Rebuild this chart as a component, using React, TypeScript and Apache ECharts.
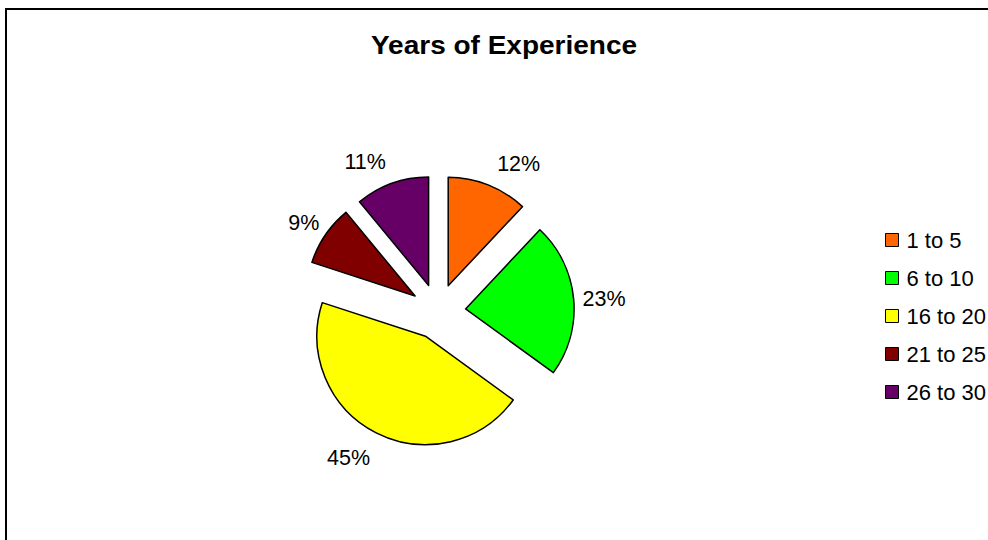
import React, { useEffect, useRef } from "react";
import * as echarts from "echarts";

const TITLE = "Years of Experience";
const categories = ["1 to 5", "6 to 10", "16 to 20", "21 to 25", "26 to 30"];
const percents = [12, 23, 45, 9, 11];
const colors = ["#FF6600", "#00FF00", "#FFFF00", "#800000", "#660066"];

const FONT = "'Liberation Sans', Arial, Helvetica, sans-serif";
const CX = 438;
const CY = 311.5;

export default function App() {
  const ref = useRef<HTMLDivElement>(null);

  useEffect(() => {
    if (!ref.current) return;
    const chart = echarts.init(ref.current, null, { renderer: "svg" });
    const data = categories.map((name, i) => ({
      name,
      value: percents[i],
      selected: true,
      itemStyle: { color: colors[i] },
    }));
    const total = percents.reduce((a, b) => a + b, 0);
    const midDir = (idx: number) => {
      let before = 0;
      for (let k = 0; k < idx; k++) before += percents[k];
      const frac = (before + percents[idx] / 2) / total;
      return { nx: Math.sin(frac * 2 * Math.PI), ny: -Math.cos(frac * 2 * Math.PI) };
    };
    chart.setOption({
      animation: false,
      backgroundColor: "#ffffff",
      graphic: [
        {
          type: "rect",
          shape: { x: 6, y: 9, width: 1100, height: 700 },
          style: { fill: "none", stroke: "#000000", lineWidth: 2 },
          silent: true,
        },
        {
          type: "text",
          x: 504,
          y: 46,
          scaleX: 1.12,
          style: {
            text: TITLE,
            fontFamily: FONT,
            fontSize: 25,
            fontWeight: "bold",
            fill: "#000000",
            align: "center",
            verticalAlign: "middle",
          },
          silent: true,
        },
      ],
      legend: {
        orient: "vertical",
        left: 885,
        top: 229,
        padding: 0,
        itemWidth: 13,
        itemHeight: 13,
        itemGap: 16,
        icon: "rect",
        selectedMode: false,
        itemStyle: { borderColor: "#000000", borderWidth: 1 },
        textStyle: {
          fontFamily: FONT,
          fontSize: 22,
          lineHeight: 22,
          color: "#000000",
          padding: [0, 0, 0, 3],
        },
        data: categories,
      },
      series: [
        {
          type: "pie",
          center: [CX, CY],
          radius: 108.5,
          startAngle: 90,
          clockwise: true,
          selectedMode: "multiple",
          selectedOffset: 27.7,
          avoidLabelOverlap: false,
          emphasis: { disabled: true },
          itemStyle: { borderColor: "#000000", borderWidth: 1.5 },
          label: {
            show: true,
            position: "outside",
            formatter: "{d}%",
            fontFamily: FONT,
            fontSize: 21.5,
            color: "#000000",
            distanceToLabelLine: 9,
          },
          labelLine: { show: false, length: 0, length2: 0 },
          labelLayout: (p: any) => {
            const d = midDir(p.dataIndex);
            return { dy: d.ny * 25.5 + 2.5, dx: d.nx < 0 ? 3 : 0 };
          },
          data,
        },
      ],
    });
    return () => chart.dispose();
  }, []);

  return (
    <div
      ref={ref}
      style={{ position: "absolute", left: 0, top: 0, width: 988, height: 540 }}
    />
  );
}
